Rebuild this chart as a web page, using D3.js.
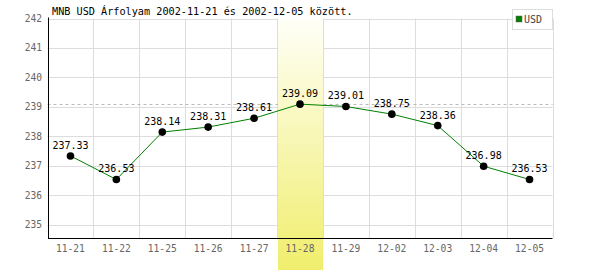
<!DOCTYPE html>
<html><head><meta charset="utf-8">
<script src="https://cdn.jsdelivr.net/npm/d3@7"></script>
<style>body{margin:0;background:#fff}svg{display:block}</style>
</head><body>
<script>
const categories = ["11-21","11-22","11-25","11-26","11-27","11-28","11-29","12-02","12-03","12-04","12-05"];
const values = [237.33,236.53,238.14,238.31,238.61,239.09,239.01,238.75,238.36,236.98,236.53];
const yTicks = [235,236,237,238,239,240,241,242];
const highlight = "11-28";
const seriesName = "USD";
const title = "MNB USD Árfolyam 2002-11-21 és 2002-12-05 között.";

const W=600,H=270;
const svg=d3.select("body").append("svg").attr("width",W).attr("height",H);
const x=d3.scaleBand().domain(categories).range([47.5,552.5]).padding(0);
const y=d3.scaleLinear().domain([235,242]).range([224.5,18.5]);
const yB=y(234.54), yT=y(242);
const L=47.5,R=552.5;
const font="'DejaVu Sans Mono', monospace";

const defs=svg.append("defs");
const g=defs.append("linearGradient").attr("id","hl").attr("x1",0).attr("y1",0).attr("x2",0).attr("y2",1);
g.append("stop").attr("offset","0%").attr("stop-color","#fffff8");
g.append("stop").attr("offset","100%").attr("stop-color","#f0ee6c");

// grid
svg.append("g").selectAll("line").data(yTicks).join("line")
 .attr("x1",L).attr("x2",R).attr("y1",d=>Math.round(y(d))+0.5).attr("y2",d=>Math.round(y(d))+0.5)
 .attr("stroke","#ddd");
svg.append("g").selectAll("line").data(categories.slice(1).concat(["__end"])).join("line")
 .attr("x1",(d,i)=>Math.round(x(categories[i])+x.bandwidth())+0.5)
 .attr("x2",(d,i)=>Math.round(x(categories[i])+x.bandwidth())+0.5)
 .attr("y1",yT).attr("y2",yB).attr("stroke","#ddd");

// max dashed
const mx=d3.max(values);
svg.append("line").attr("x1",L).attr("x2",R).attr("y1",Math.round(y(mx))+0.5).attr("y2",Math.round(y(mx))+0.5)
 .attr("stroke","#bbb").attr("stroke-dasharray","3,3");

// highlight band
svg.append("rect").attr("x",Math.round(x(highlight))+1).attr("width",Math.round(x.bandwidth())-1)
 .attr("y",yT).attr("height",H-yT).attr("fill","url(#hl)");

// axes
svg.append("line").attr("x1",48.5).attr("x2",48.5).attr("y1",yT-1).attr("y2",Math.round(yB)+0.5).attr("stroke","#000");
svg.append("line").attr("x1",48).attr("x2",R).attr("y1",Math.round(yB)+0.5).attr("y2",Math.round(yB)+0.5).attr("stroke","#000");

// tick labels
svg.append("g").selectAll("text").data(yTicks).join("text")
 .attr("x",42).attr("y",d=>y(d)+3.5).attr("text-anchor","end")
 .attr("font-family",font).attr("font-size","9.6px").attr("fill","#666").text(d=>d);
svg.append("g").selectAll("text").data(categories).join("text")
 .attr("x",d=>x(d)+x.bandwidth()/2).attr("y",252).attr("text-anchor","middle")
 .attr("font-family",font).attr("font-size","9.6px").attr("fill","#666").text(d=>d);

// line + dots
const cx=(d,i)=>x(categories[i])+x.bandwidth()/2;
svg.append("path").datum(values).attr("fill","none").attr("stroke","#008000").attr("stroke-width",1)
 .attr("d",d3.line().x(cx).y(d=>y(d)));
svg.append("g").selectAll("circle").data(values).join("circle")
 .attr("cx",cx).attr("cy",d=>y(d)).attr("r",3.8).attr("fill","#000");
svg.append("g").selectAll("text").data(values).join("text")
 .attr("x",cx).attr("y",d=>y(d)-7).attr("text-anchor","middle")
 .attr("font-family",font).attr("font-size","10px").attr("fill","#000").text(d=>d.toFixed(2));

// title
svg.append("text").attr("x",52).attr("y",15).attr("font-family",font).attr("font-size","10.2px")
 .attr("fill","#000").text(title);

// legend
svg.append("rect").attr("x",512.5).attr("y",9.5).attr("width",40).attr("height",20).attr("fill","#fff").attr("stroke","#ddd");
svg.append("rect").attr("x",516).attr("y",16).attr("width",6).attr("height",6).attr("fill","#008000").attr("stroke","#666").attr("stroke-width",0.5);
svg.append("text").attr("x",524).attr("y",23).attr("font-family",font).attr("font-size","10px").attr("fill","#444").text(seriesName);
</script>
</body></html>
